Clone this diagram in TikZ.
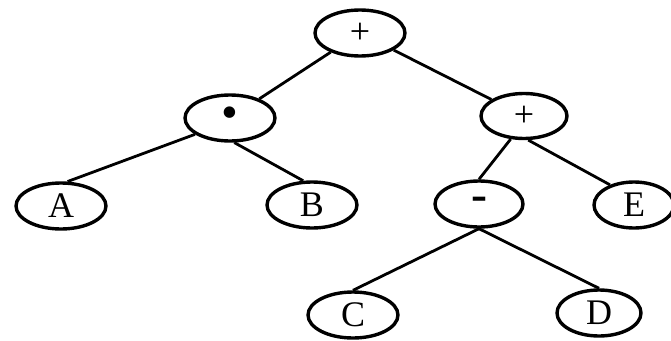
\documentclass[tikz,border=0pt]{standalone}
\usepackage{fontspec}
\setmainfont{Liberation Serif}
\usetikzlibrary{shapes.geometric}
\begin{document}
\begin{tikzpicture}[x=1pt,y=-1pt,
  tnode/.style={draw, ellipse, line width=3.4pt, minimum width=90pt, minimum height=46pt, inner sep=0pt, font=\fontsize{36}{36}\selectfont},
  edge/.style={line width=2.8pt}]
\useasboundingbox (0,0) rectangle (671,340);
\node[tnode] (root) at (360,33) {\raisebox{-2pt}{+}};
\node[tnode] (mul) at (230,118) {\fontsize{48}{48}\selectfont\raisebox{-2pt}{•}};
\node[tnode, minimum width=86pt, minimum height=45pt] (plus) at (524,116) {\raisebox{-5pt}{+}};
\node[tnode] (a) at (61,206) {\raisebox{-5pt}{A}};
\node[tnode] (b) at (312,205) {\raisebox{-5pt}{B}};
\node[tnode, minimum width=88pt] (minus) at (479,204) {\fontsize{48}{48}\selectfont\textbf{-}};
\node[tnode, minimum width=80pt] (e) at (634,205) {\raisebox{-5pt}{E}};
\node[tnode] (c) at (353,315) {\raisebox{-7pt}{C}};
\node[tnode, minimum width=84pt] (d) at (599,313) {\raisebox{-7pt}{D}};
\draw[edge] (root) -- (mul);
\draw[edge] (root) -- (plus);
\draw[edge] (mul.205) -- (a.75);
\draw[edge] (mul.280) -- (b.110);
\draw[edge] (plus.240) -- (minus.north);
\draw[edge] (plus.280) -- (e.140);
\draw[edge] (minus.south) -- (c.north);
\draw[edge] (minus.south) -- (d.north);
\end{tikzpicture}
\end{document}
